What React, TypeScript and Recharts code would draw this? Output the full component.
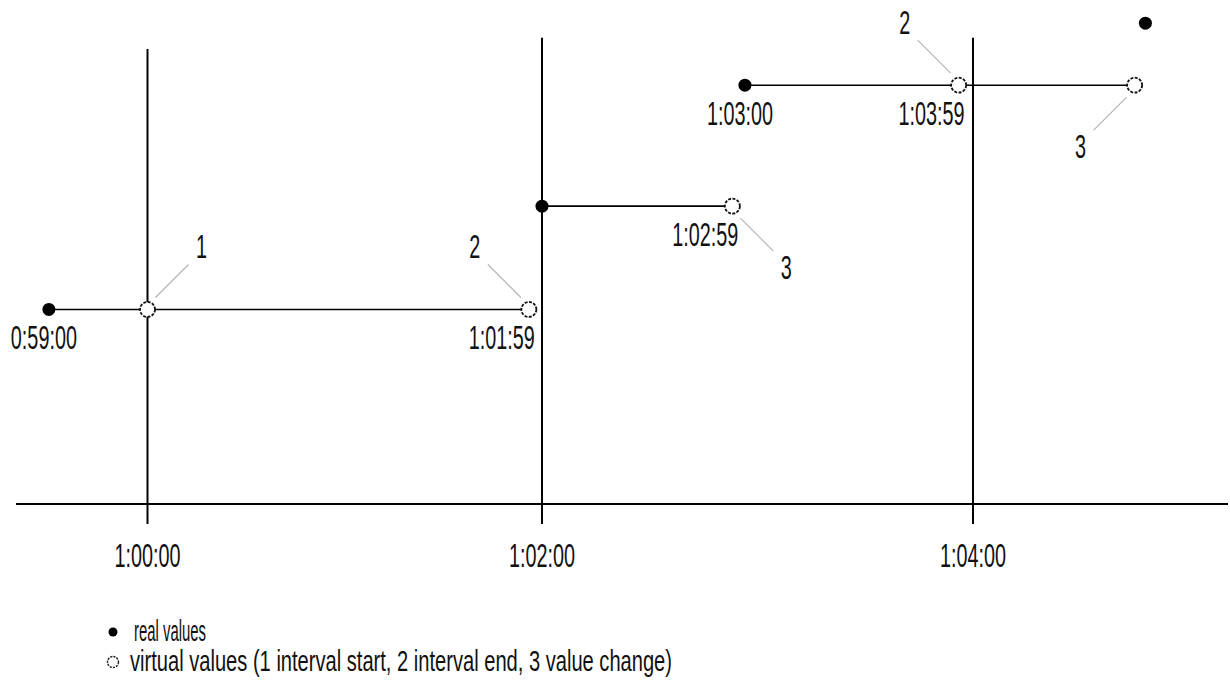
import { ScatterChart, Scatter, XAxis, YAxis, ReferenceLine, Legend } from 'recharts';

const realX = [3570, 3720, 3776.5, 3888];
const realY = [38.6, 59.1, 83.1, 95.4];
const realLabels = ['0:59:00', '', '1:03:00', ''];

const virtualX = [3600, 3716, 3773, 3836, 3885];
const virtualY = [38.6, 38.6, 59.1, 83.1, 83.1];
const virtualKind = [1, 2, 3, 2, 3]; // 1 interval start, 2 interval end, 3 value change
const virtualLabels = ['', '1:01:59', '1:02:59', '1:03:59', ''];

const tickValues = [3600, 3720, 3840];
const tickLabels = ['1:00:00', '1:02:00', '1:04:00'];

// layout
const W = 1230;
const H = 689;
const dividerTop = [90.3, 92.5, 92.5];
const calloutSide = [1, -1, 1, -1, -1];
const FONT = '"Liberation Sans", Arial, sans-serif';
const SQUEEZE = 0.6;

// the sketch is not drawn to scale: every tick interval gets its own share of the axis
const axisKnots = [3560, 3600, 3720, 3840, 3911];
const axisShare = [0, 0.1085, 0.434, 0.7896, 1];

function sketchScale(): any {
  let dom: number[] = [axisKnots[0], axisKnots[axisKnots.length - 1]];
  let rng: number[] = [0, 1];
  const scale: any = (v: number) => {
    let i = 0;
    while (i < axisKnots.length - 2 && v > axisKnots[i + 1]) i++;
    const t = (v - axisKnots[i]) / (axisKnots[i + 1] - axisKnots[i]);
    const s = axisShare[i] + t * (axisShare[i + 1] - axisShare[i]);
    return rng[0] + s * (rng[1] - rng[0]);
  };
  scale.domain = (d?: number[]) => {
    if (!d) return dom;
    dom = [...d];
    return scale;
  };
  scale.range = (r?: number[]) => {
    if (!r) return rng;
    rng = [...r];
    return scale;
  };
  scale.copy = () => sketchScale().domain(dom).range(rng);
  scale.ticks = () => tickValues;
  return scale;
}
const xScale = sketchScale();

const real = realX.map((x, i) => ({ x, y: realY[i], label: realLabels[i] }));
const virtual = virtualX.map((x, i) => ({
  x,
  y: virtualY[i],
  kind: virtualKind[i],
  label: virtualLabels[i],
  side: calloutSide[i],
}));
// a real value holds until the last virtual value before the next real one
const segments = real.slice(0, -1).map((r, i) => {
  const next = real[i + 1].x;
  return [r, ...virtual.filter((v) => v.x >= r.x && v.x < next)];
});

function Squeezed({ x, y, anchor = 'middle', size = 33, width, children }: any) {
  return (
    <text
      transform={`translate(${x},${y}) scale(${SQUEEZE},1)`}
      textAnchor={anchor}
      fontFamily={FONT}
      fontSize={size}
      fill="#111"
      textLength={width ? width / SQUEEZE : undefined}
      lengthAdjust={width ? 'spacingAndGlyphs' : undefined}
    >
      {children}
    </text>
  );
}

const RealDot = (p: any) => (
  <g>
    <circle cx={p.cx} cy={p.cy} r={6.5} fill="#000" />
    {p.payload.label && (
      <Squeezed x={p.cx - 5} y={p.cy + 40}>
        {p.payload.label}
      </Squeezed>
    )}
  </g>
);

const VirtualDot = (p: any) => {
  const { cx, cy, payload } = p;
  const sx = payload.side;
  const sy = payload.kind === 3 ? 1 : -1;
  return (
    <g>
      <line
        x1={cx + sx * 8}
        y1={cy + sy * 12}
        x2={cx + sx * 41}
        y2={cy + sy * 45}
        stroke="#b4b4b4"
        strokeWidth={1.2}
      />
      <circle cx={cx} cy={cy} r={7.5} fill="#fff" stroke="#111" strokeWidth={1.8} strokeDasharray="3 1.4" />
      <Squeezed x={cx + sx * 54} y={cy + (sy > 0 ? 61 : -63) + 12}>
        {payload.kind}
      </Squeezed>
      {payload.label && (
        <Squeezed x={cx + 6} y={cy + 40} anchor="end">
          {payload.label}
        </Squeezed>
      )}
    </g>
  );
};

const TimeTick = (p: any) => (
  <Squeezed x={p.x} y={p.y + 41}>
    {tickLabels[tickValues.indexOf(p.payload.value)]}
  </Squeezed>
);

const renderLegend = (props: any) => (
  <svg width={1000} height={70}>
    {props.payload
      .filter((e: any) => e.value && e.type !== 'none')
      .map((e: any, i: number) => {
        const cy = 20 + i * 30;
        const open = e.color === '#fff';
        return (
          <g key={e.value}>
            {open ? (
              <circle cx={113} cy={cy} r={5.5} fill="#fff" stroke="#222" strokeWidth={1.4} strokeDasharray="2.2 1" />
            ) : (
              <circle cx={113} cy={cy} r={4.5} fill="#000" />
            )}
            <Squeezed x={open ? 130 : 134} y={cy + 9} anchor="start" size={30} width={open ? 542 : 72}>
              {e.value}
            </Squeezed>
          </g>
        );
      })}
  </svg>
);

export default function App() {
  return (
    <div style={{ position: 'absolute', left: 0, top: 0, background: '#fff' }}>
      <ScatterChart width={W} height={H} margin={{ top: 0, right: 2, bottom: 0, left: 16 }}>
        <XAxis
          type="number"
          dataKey="x"
          domain={[axisKnots[0], axisKnots[axisKnots.length - 1]]}
          scale={xScale}
          ticks={tickValues}
          interval={0}
          height={185}
          tickSize={20}
          axisLine={{ stroke: '#000', strokeWidth: 2 }}
          tickLine={{ stroke: '#000', strokeWidth: 2 }}
          tick={<TimeTick />}
        />
        <YAxis type="number" dataKey="y" domain={[0, 100]} hide />
        {tickValues.map((t, i) => (
          <ReferenceLine
            key={t}
            segment={[
              { x: t, y: dividerTop[i] },
              { x: t, y: 0 },
            ]}
            stroke="#000"
            strokeWidth={2}
          />
        ))}
        {segments.map((seg, i) => (
          <Scatter
            key={i}
            data={seg}
            line={{ stroke: '#000', strokeWidth: 1.6 }}
            shape={() => <g />}
            legendType="none"
            isAnimationActive={false}
          />
        ))}
        <Scatter name="real values" data={real} fill="#000" shape={RealDot} isAnimationActive={false} />
        <Scatter
          name="virtual values   (1 interval start, 2 interval end, 3 value change)"
          data={virtual}
          fill="#fff"
          shape={VirtualDot}
          isAnimationActive={false}
        />
        <Legend
          layout="horizontal"
          verticalAlign="middle"
          align="center"
          wrapperStyle={{ left: 0, top: 612, width: 1000, height: 70 }}
          content={renderLegend}
        />
      </ScatterChart>
    </div>
  );
}
